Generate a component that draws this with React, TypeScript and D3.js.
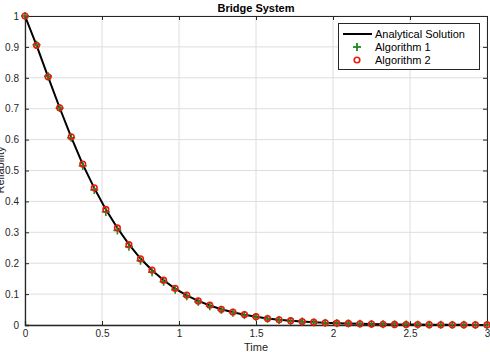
import { useEffect, useRef } from 'react';
import * as d3 from 'd3';

const times = [
  0, 0.075, 0.15, 0.225, 0.3, 0.375, 0.45, 0.525, 0.6, 0.675, 0.75, 0.825, 0.9, 0.975, 1.05, 1.125, 1.2, 1.275, 1.35,
  1.425, 1.5, 1.575, 1.65, 1.725, 1.8, 1.875, 1.95, 2.025, 2.1, 2.175, 2.25, 2.325, 2.4, 2.475, 2.55, 2.625, 2.7,
  2.775, 2.85, 2.925, 3,
];

const analytical = [
  1, 0.905, 0.803, 0.703, 0.608, 0.52, 0.443, 0.374, 0.314, 0.261, 0.215, 0.177, 0.145, 0.118, 0.096, 0.078, 0.063,
  0.051, 0.041, 0.033, 0.027, 0.021, 0.017, 0.014, 0.011, 0.009, 0.007, 0.006, 0.005, 0.004, 0.003, 0.0025, 0.002,
  0.0016, 0.0013, 0.001, 0.0008, 0.0007, 0.0005, 0.0004, 0.0003,
];

const algorithm1 = [
  1, 0.907, 0.805, 0.702, 0.606, 0.515, 0.437, 0.366, 0.306, 0.253, 0.208, 0.171, 0.14, 0.114, 0.093, 0.075, 0.061,
  0.049, 0.04, 0.032, 0.026, 0.02, 0.016, 0.013, 0.011, 0.008, 0.007, 0.006, 0.005, 0.004, 0.003, 0.0025, 0.002,
  0.0016, 0.0013, 0.001, 0.0008, 0.0007, 0.0005, 0.0004, 0.0003,
];

const algorithm2 = [
  1, 0.905, 0.803, 0.703, 0.609, 0.521, 0.444, 0.374, 0.314, 0.26, 0.214, 0.178, 0.145, 0.119, 0.097, 0.078, 0.064,
  0.051, 0.042, 0.034, 0.027, 0.021, 0.017, 0.014, 0.011, 0.009, 0.007, 0.006, 0.005, 0.004, 0.003, 0.0025, 0.002,
  0.0016, 0.0013, 0.001, 0.0008, 0.0007, 0.0005, 0.0004, 0.0003,
];

const xTicks = [0, 0.5, 1, 1.5, 2, 2.5, 3];
const yTicks = [0, 0.1, 0.2, 0.3, 0.4, 0.5, 0.6, 0.7, 0.8, 0.9, 1];
const legendNames = ['Analytical Solution', 'Algorithm 1', 'Algorithm 2'];

const W = 490;
const H = 352;
const FONT = 'Liberation Sans, Arial, sans-serif';

const App = () => {
  const svgRef = useRef<SVGSVGElement>(null);

  useEffect(() => {
    const svg = d3.select(svgRef.current);
    svg.selectAll('*').remove();

    const left = 25;
    const right = 487;
    const top = 16;
    const bottom = 325;

    const x = d3.scaleLinear().domain([0, 3]).range([left, right]);
    const y = d3.scaleLinear().domain([0, 1]).range([bottom, top]);

    svg.append('rect').attr('width', W).attr('height', H).attr('fill', '#fff');

    // grid
    const grid = svg.append('g').attr('stroke', '#dedede').attr('stroke-width', 1);
    xTicks.forEach((t) => {
      grid.append('line').attr('x1', x(t)).attr('x2', x(t)).attr('y1', top).attr('y2', bottom);
    });
    yTicks.forEach((t) => {
      grid.append('line').attr('x1', left).attr('x2', right).attr('y1', y(t)).attr('y2', y(t));
    });

    // axes (box with inward ticks)
    const axisColor = '#262626';
    svg
      .append('g')
      .attr('transform', `translate(0,${bottom})`)
      .call(d3.axisBottom(x).tickValues(xTicks).tickSize(-4).tickPadding(5).tickFormat(d3.format('~g')))
      .call((g) => g.select('.domain').attr('stroke', axisColor).attr('stroke-width', 1.3));
    svg
      .append('g')
      .attr('transform', `translate(0,${top})`)
      .call(d3.axisTop(x).tickValues(xTicks).tickSize(-4).tickFormat(() => ''))
      .call((g) => g.select('.domain').attr('stroke', axisColor));
    svg
      .append('g')
      .attr('transform', `translate(${left},0)`)
      .call(d3.axisLeft(y).tickValues(yTicks).tickSize(-4).tickPadding(6).tickFormat(d3.format('~g')))
      .call((g) => g.select('.domain').attr('stroke', axisColor).attr('stroke-width', 1.3));
    svg
      .append('g')
      .attr('transform', `translate(${right},0)`)
      .call(d3.axisRight(y).tickValues(yTicks).tickSize(-4).tickFormat(() => ''))
      .call((g) => g.select('.domain').attr('stroke', axisColor));

    svg
      .selectAll('.tick text')
      .attr('font-family', FONT)
      .attr('font-size', 10)
      .attr('fill', axisColor);
    svg.selectAll('.tick line').attr('stroke', axisColor);

    // analytical line
    const pts = times.map((t, i) => [t, analytical[i]] as [number, number]);
    svg
      .append('path')
      .attr('d', d3.line().x((d) => x(d[0])).y((d) => y(d[1]))(pts))
      .attr('fill', 'none')
      .attr('stroke', '#000')
      .attr('stroke-width', 2);

    // algorithm 1 plus markers
    const green = '#1d8a1d';
    const plus = svg.append('g').attr('stroke', green).attr('stroke-width', 1.6);
    times.forEach((t, i) => {
      const cx = x(t);
      const cy = y(algorithm1[i]);
      plus.append('line').attr('x1', cx - 4).attr('x2', cx + 4).attr('y1', cy).attr('y2', cy);
      plus.append('line').attr('x1', cx).attr('x2', cx).attr('y1', cy - 4).attr('y2', cy + 4);
    });

    // algorithm 2 circles
    const red = '#e8190f';
    svg
      .append('g')
      .selectAll('circle')
      .data(times)
      .join('circle')
      .attr('cx', (t) => x(t))
      .attr('cy', (_, i) => y(algorithm2[i]))
      .attr('r', 2.8)
      .attr('fill', 'none')
      .attr('stroke', red)
      .attr('stroke-width', 1.6);

    // title and labels
    svg
      .append('text')
      .attr('x', (left + right) / 2)
      .attr('y', 12)
      .attr('text-anchor', 'middle')
      .attr('font-family', FONT)
      .attr('font-size', 11)
      .attr('font-weight', 'bold')
      .attr('fill', '#000')
      .text('Bridge System');
    svg
      .append('text')
      .attr('x', (left + right) / 2)
      .attr('y', 351)
      .attr('text-anchor', 'middle')
      .attr('font-family', FONT)
      .attr('font-size', 11)
      .attr('fill', axisColor)
      .text('Time');
    svg
      .append('text')
      .attr('transform', `translate(4,170) rotate(-90)`)
      .attr('text-anchor', 'middle')
      .attr('font-family', FONT)
      .attr('font-size', 11)
      .attr('fill', axisColor)
      .text('Reliability');

    // legend
    const lg = svg.append('g');
    lg.append('rect')
      .attr('x', 338.5)
      .attr('y', 23.5)
      .attr('width', 141)
      .attr('height', 46)
      .attr('fill', '#fff')
      .attr('stroke', axisColor)
      .attr('stroke-width', 1);
    const rowY = [34, 47, 60];
    lg.append('line').attr('x1', 343).attr('x2', 372).attr('y1', rowY[0]).attr('y2', rowY[0]).attr('stroke', '#000').attr('stroke-width', 2);
    lg.append('line').attr('x1', 353).attr('x2', 361).attr('y1', rowY[1]).attr('y2', rowY[1]).attr('stroke', green).attr('stroke-width', 1.8);
    lg.append('line').attr('x1', 357).attr('x2', 357).attr('y1', rowY[1] - 4).attr('y2', rowY[1] + 4).attr('stroke', green).attr('stroke-width', 1.8);
    lg.append('circle').attr('cx', 357).attr('cy', rowY[2]).attr('r', 2.8).attr('fill', 'none').attr('stroke', red).attr('stroke-width', 1.6);
    legendNames.forEach((name, i) => {
      lg.append('text')
        .attr('x', 375)
        .attr('y', rowY[i] + 4)
        .attr('font-family', FONT)
        .attr('font-size', 11)
        .attr('fill', '#000')
        .text(name);
    });
  }, []);

  return (
    <div style={{ position: 'fixed', left: 0, top: 0 }}>
      <svg width={W} height={H} ref={svgRef} style={{ display: 'block' }} />
    </div>
  );
};

export default App;
